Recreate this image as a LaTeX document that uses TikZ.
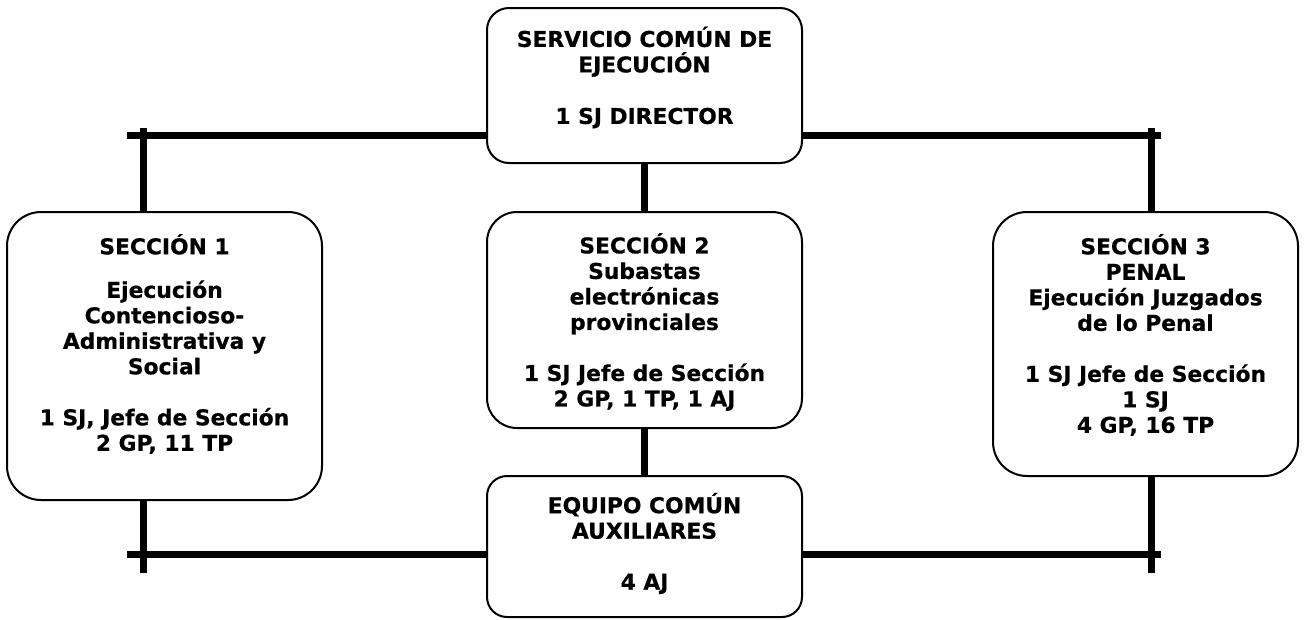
\documentclass[tikz,border=0pt]{standalone}
\usepackage{fontspec}
\setmainfont{DejaVu Sans}[BoldFeatures={FakeBold=0.6}]
\usepackage{tikz}
\tikzset{unitbox/.style={draw, line width=2pt, outer sep=0pt, inner sep=0pt, rounded corners=#1}}
\tikzset{unitbox/.default=28pt}
\tikzset{unittext/.style={align=center, inner sep=0pt, font=\fontsize{21.8}{25.5}\selectfont\bfseries}}
\tikzset{link/.style={line width=7pt}}

\begin{document}
\begin{tikzpicture}[x=1pt, y=-1pt]
            \useasboundingbox (0, 0) rectangle (1305, 619);
            \node[unitbox=22pt, minimum width=315, minimum height=155] (direccion) at (644.5, 85.5) {};
            \node[unitbox=34pt, minimum width=315, minimum height=288] (seccion1) at (164.5, 356) {};
            \node[unitbox=30pt, minimum width=315, minimum height=216] (seccion2) at (644.5, 320) {};
            \node[unitbox=34pt, minimum width=305, minimum height=264] (seccion3) at (1145.5, 344) {};
            \node[unitbox=20pt, minimum width=315, minimum height=141] (equipo) at (644.5, 546.5) {};
            \node[unittext, yshift=8pt] (direccion-txt) at (direccion)
                {SERVICIO COMÚN DE\\EJECUCIÓN\\[26pt]1 SJ DIRECTOR};
            \node[unittext, yshift=12pt] (seccion1-txt) at (seccion1)
                {SECCIÓN 1\\[18pt]Ejecución\\Contencioso-\\Administrativa y\\Social\\[25.5pt]1 SJ, Jefe de Sección\\2 GP, 11 TP};
            \node[unittext, yshift=-2pt] (seccion2-txt) at (seccion2)
                {SECCIÓN 2\\Subastas\\electrónicas\\provinciales\\[25.5pt]1 SJ Jefe de Sección\\2 GP, 1 TP, 1 AJ};
            \node[unittext, yshift=9pt] (seccion3-txt) at (seccion3)
                {SECCIÓN 3\\PENAL\\Ejecución Juzgados\\de lo Penal\\[25.5pt]1 SJ Jefe de Sección\\1 SJ\\4 GP, 16 TP};
            \node[unittext, yshift=3pt] (equipo-txt) at (equipo)
                {EQUIPO COMÚN\\AUXILIARES\\[25.5pt]4 AJ};
            \coordinate (arribaizq) at (127, 135);
            \coordinate (arribader) at (1161, 135);
            \coordinate (abajoizq) at (127, 554);
            \coordinate (abajoder) at (1161, 554);
            \coordinate (ramaizq) at (143.5, 128);
            \coordinate (ramader) at (1151.5, 128);
            \coordinate (pieizq) at (143.5, 573);
            \coordinate (pieder) at (1151.5, 573);
            \draw[link] (arribaizq) -- (direccion.west |- arribaizq);
            \draw[link] (direccion.east |- arribader) -- (arribader);
            \draw[link] (ramaizq) -- (ramaizq |- seccion1.north);
            \draw[link] (ramader) -- (ramader |- seccion3.north);
            \draw[link] (direccion.south) -- (seccion2.north);
            \draw[link] (seccion2.south) -- (equipo.north);
            \draw[link] (abajoizq) -- (equipo.west |- abajoizq);
            \draw[link] (equipo.east |- abajoder) -- (abajoder);
            \draw[link] (pieizq |- seccion1.south) -- (pieizq);
            \draw[link] (pieder |- seccion3.south) -- (pieder);
        \end{tikzpicture}
\end{document}
